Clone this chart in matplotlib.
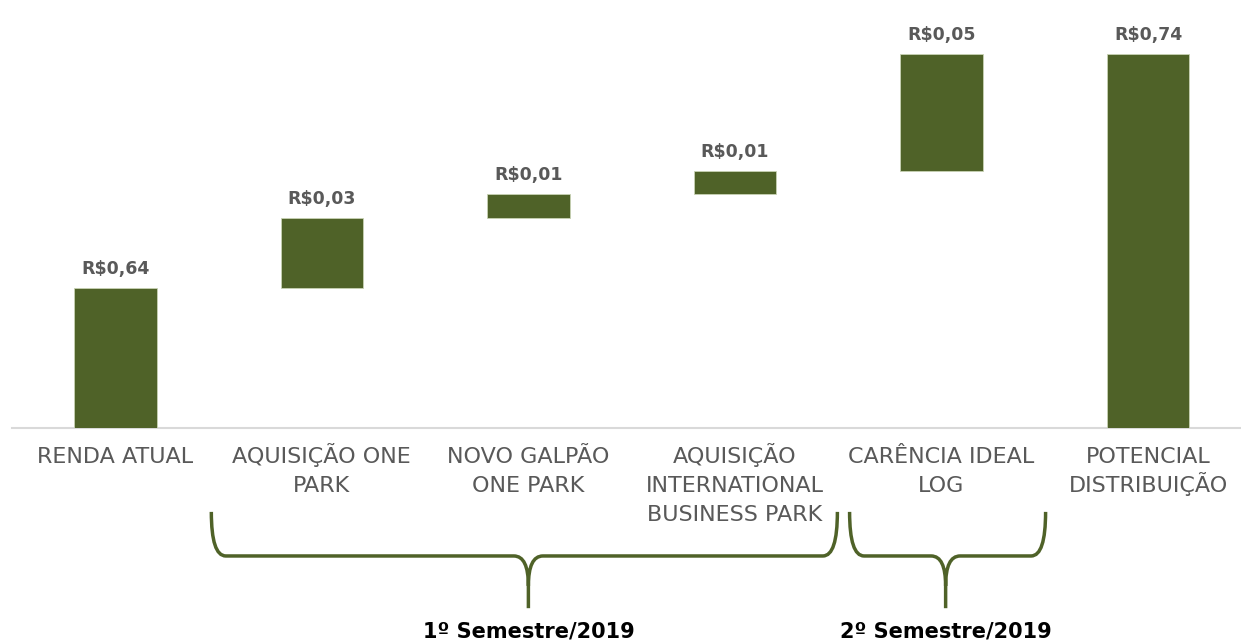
import matplotlib
matplotlib.use("Agg")
from matplotlib import pyplot as plt
from matplotlib.path import Path
from matplotlib.patches import PathPatch
import matplotlib.transforms as mtransforms

# Waterfall data
categories = ["RENDA ATUAL", "AQUISIÇÃO ONE\nPARK", "NOVO GALPÃO\nONE PARK",
              "AQUISIÇÃO\nINTERNATIONAL\nBUSINESS PARK", "CARÊNCIA IDEAL\nLOG",
              "POTENCIAL\nDISTRIBUIÇÃO"]
values = [0.64, 0.03, 0.01, 0.01, 0.05, 0.74]
value_labels = ["R$0,64", "R$0,03", "R$0,01", "R$0,01", "R$0,05", "R$0,74"]
is_total = [True, False, False, False, False, True]

# semester groups: (brace start, brace end, brace tip, label)
groups = [(0.465, 3.496, 2.0, "1º Semestre/2019"),
          (3.555, 4.504, 4.02, "2º Semestre/2019")]

green = "#4f6228"
gray = "#595959"

fig = plt.figure(figsize=(12.41, 6.4), dpi=100)
ax = fig.add_axes([12 / 1241, 212 / 640, 1 - 12 / 1241, 428 / 640])

# bottoms for the floating bars
bottoms = []
running = 0.0
for v, tot in zip(values, is_total):
    if tot:
        bottoms.append(0.0)
        running = v
    else:
        bottoms.append(running)
        running += v

x = list(range(len(categories)))
ax.bar(x, values, bottom=bottoms, width=0.4, color=green, edgecolor="#c8d2b4", linewidth=0.6, zorder=3)

for xi, v, b, lab in zip(x, values, bottoms, value_labels):
    ax.annotate(lab, (xi, v + b), xytext=(0, 10), textcoords="offset points",
                ha="center", va="baseline", fontsize=12.5, fontweight="bold",
                color=gray, family="DejaVu Sans")

ax.set_ylim(0.58, 0.763)
ax.set_xlim(-0.5, 5.45)
ax.set_xticks([])
ax.set_yticks([])
for s in ["top", "right", "left"]:
    ax.spines[s].set_visible(False)
ax.spines["bottom"].set_color("#d9d9d9")
ax.spines["bottom"].set_linewidth(1.5)

trans = mtransforms.blended_transform_factory(ax.transData, ax.transAxes)

# category labels, one line at a time so baselines line up
for xi, cat in zip(x, categories):
    for i, line in enumerate(cat.split("\n")):
        ax.text(xi, -0.081 - i * 0.0678, line, transform=trans, ha="center",
                va="baseline", fontsize=16, color=gray, family="DejaVu Sans")

# curly braces under the labels
y_top, y_mid, y_tip = -0.196, -0.299, -0.421
r = 0.07
for x0, x1, xc, text in groups:
    verts = [(x0, y_top), (x0, y_mid), (x0 + r, y_mid),
             (xc - r, y_mid), (xc, y_mid), (xc, y_mid - 0.07), (xc, y_tip),
             (xc, y_mid - 0.07), (xc, y_mid), (xc + r, y_mid),
             (x1 - r, y_mid), (x1, y_mid), (x1, y_top)]
    codes = [Path.MOVETO, Path.CURVE3, Path.CURVE3,
             Path.LINETO, Path.CURVE3, Path.CURVE3, Path.LINETO,
             Path.MOVETO, Path.CURVE3, Path.CURVE3,
             Path.LINETO, Path.CURVE3, Path.CURVE3]
    patch = PathPatch(Path(verts, codes), transform=trans, facecolor="none",
                      edgecolor=green, linewidth=2.5, clip_on=False)
    ax.add_patch(patch)
    ax.text(xc, -0.489, text, transform=trans, ha="center", va="baseline",
            fontsize=15, fontweight="bold", color="black", family="DejaVu Sans")

fig.savefig("out.png", dpi=100)
